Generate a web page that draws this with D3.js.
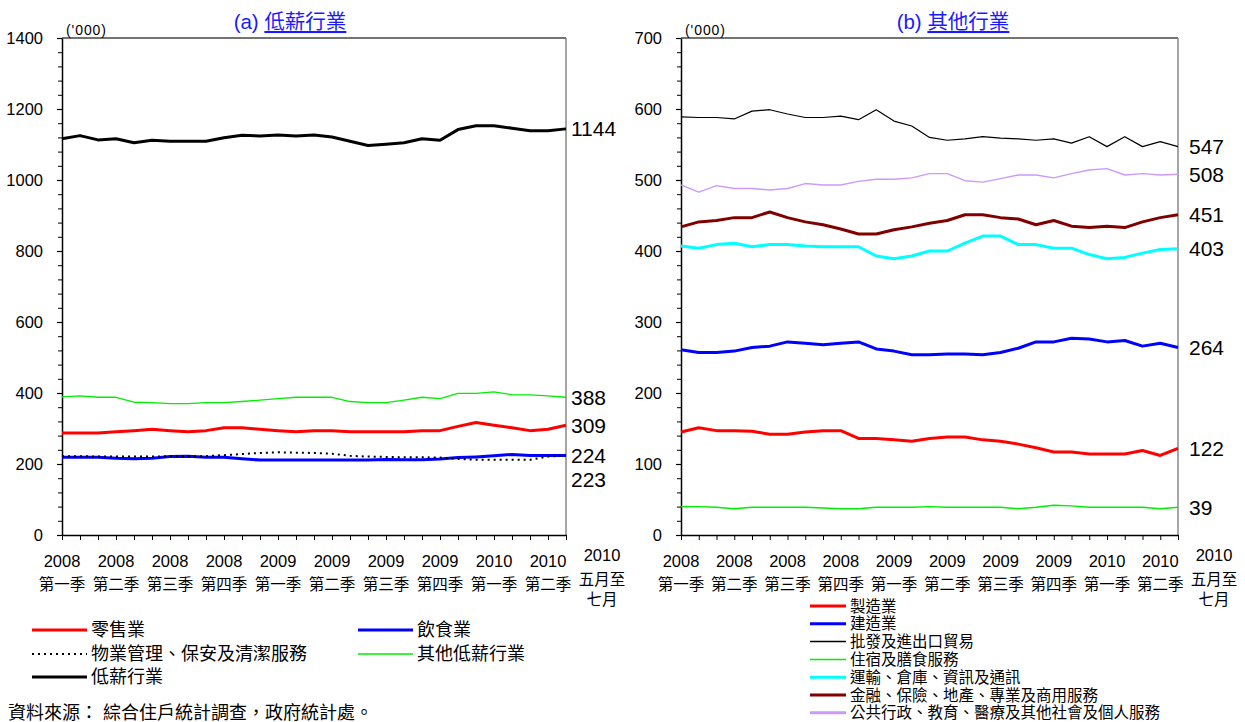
<!DOCTYPE html>
<html><head><meta charset="utf-8">
<script src="https://cdn.jsdelivr.net/npm/d3@7"></script>
<style>
body{margin:0;background:#fff}
text{font-family:"Liberation Sans",Arial,"Noto Sans CJK TC",sans-serif;fill:#000}
</style>
</head><body>
<svg id="c" width="1245" height="722"></svg>
<script>
// ---------- data ----------
const periods = [
 "2008年1-3月","2008年2-4月","2008年3-5月","2008年4-6月","2008年5-7月","2008年6-8月",
 "2008年7-9月","2008年8-10月","2008年9-11月","2008年10-12月","2008年11月-2009年1月","2008年12月-2009年2月",
 "2009年1-3月","2009年2-4月","2009年3-5月","2009年4-6月","2009年5-7月","2009年6-8月",
 "2009年7-9月","2009年8-10月","2009年9-11月","2009年10-12月","2009年11月-2010年1月","2009年12月-2010年2月",
 "2010年1-3月","2010年2-4月","2010年3-5月","2010年4-6月","2010年5-7月"];
const tickYears = ["2008","2008","2008","2008","2009","2009","2009","2009","2010","2010"];
const tickQuarters = ["第一季","第二季","第三季","第四季","第一季","第二季","第三季","第四季","第一季","第二季"];
const lastTickLines = ["2010","五月至","七月"];

// (a) low-paying sectors ('000)
const retail   = [287,287,287,291,294,298,294,291,294,302,302,298,294,291,294,294,291,291,291,291,294,294,306,317,309,302,294,298,309];
const food     = [219,219,219,216,215,216,221,222,219,219,215,211,211,211,211,211,211,211,213,212,212,214,218,220,223,227,224,224,224];
const property = [222,222,221,221,221,221,222,222,222,225,228,231,233,232,231,229,223,221,220,219,219,218,214,212,212,212,212,221,223];
const otherLow = [389,392,388,388,374,373,370,370,373,373,376,380,384,388,388,388,376,373,373,380,388,384,399,399,403,395,395,392,388];
const lowTotal = [1116,1125,1113,1116,1105,1112,1109,1109,1109,1119,1126,1124,1127,1124,1127,1121,1109,1097,1101,1105,1116,1112,1142,1153,1153,1146,1139,1139,1144];
const lowNames = ["零售業","飲食業","物業管理、保安及清潔服務","其他低薪行業","低薪行業"];
const lowEndLabels = ["309","224","223","388","1144"];

// (b) other sectors ('000)
const manuf     = [145,151,147,147,146,142,142,145,147,147,136,136,134,132,136,138,138,134,132,128,123,117,117,114,114,114,119,112,122];
const constr    = [261,257,257,259,264,266,272,270,268,270,272,262,259,254,254,255,255,254,257,263,272,272,277,276,272,274,266,270,264];
const trade     = [589,588,588,586,597,599,593,588,588,590,585,599,583,576,560,556,558,561,559,558,556,558,552,561,547,561,547,554,547];
const accom     = [40,40,39,37,39,39,39,39,38,37,37,39,39,39,40,39,39,39,39,37,39,42,41,39,39,39,39,37,39];
const transport = [407,404,409,411,406,409,409,407,406,406,406,393,389,393,400,400,411,421,421,409,409,404,404,395,389,391,397,402,403];
const finance   = [434,441,443,447,447,455,447,441,437,431,424,424,430,434,439,443,451,451,447,445,437,443,435,433,435,433,441,447,451];
const publicAdm = [493,483,492,488,488,486,488,495,493,493,498,501,501,503,509,509,499,497,502,507,507,503,509,514,516,507,509,507,508];
const otherNames = ["製造業","建造業","批發及進出口貿易","住宿及膳食服務","運輸、倉庫、資訊及通訊","金融、保險、地產、專業及商用服務","公共行政、教育、醫療及其他社會及個人服務"];
const otherEndLabels = ["122","264","547","39","403","451","508"];

const titles = [["(a) ","低薪行業"],["(b) ","其他行業"]];
const unitLabel = "('000)";
const sourceText = "資料來源： 綜合住戶統計調查，政府統計處。";

// ---------- drawing ----------
const svg = d3.select("#c");

function panel(cfg){
  const g = svg.append("g");
  const x = d3.scalePoint().domain(periods).range([cfg.x0, cfg.x1]).padding(0);
  const y = d3.scaleLinear().domain([0, cfg.yMax]).range([535, 38]);

  // frame (top and right)
  g.append("line").attr("x1",cfg.x0).attr("x2",cfg.x1).attr("y1",y(cfg.yMax)).attr("y2",y(cfg.yMax))
    .attr("stroke","#444").attr("stroke-width",1.3);
  g.append("line").attr("x1",cfg.x1).attr("x2",cfg.x1).attr("y1",y(cfg.yMax)).attr("y2",y(0))
    .attr("stroke","#888").attr("stroke-width",1.5);

  // minor y ticks
  const minor = d3.range(0, cfg.yMax+0.1, cfg.minorStep);
  g.append("g").attr("transform",`translate(${cfg.x0},0)`)
    .call(d3.axisLeft(y).tickValues(minor).tickSize(4).tickFormat(""))
    .call(a=>a.select(".domain").remove())
    .selectAll("line").attr("stroke","#000");
  // major y axis
  const major = d3.range(0, cfg.yMax+0.1, cfg.majorStep);
  const ya = g.append("g").attr("transform",`translate(${cfg.x0},0)`)
    .call(d3.axisLeft(y).tickValues(major).tickSize(5).tickSizeOuter(0).tickPadding(14).tickFormat(d3.format("d")));
  ya.select(".domain").attr("stroke","#000").attr("stroke-width",1.5);
  ya.selectAll("line").attr("stroke","#000").attr("stroke-width",1.2);
  ya.selectAll("text").attr("font-size",16.5).attr("font-family",null);

  // x axis
  const xa = g.append("g").attr("transform",`translate(0,${y(0)})`)
    .call(d3.axisBottom(x).tickSize(5).tickSizeOuter(0).tickFormat(""));
  xa.select(".domain").attr("stroke","#000").attr("stroke-width",1.5);
  xa.selectAll("line").attr("stroke","#000");

  // x labels
  tickYears.forEach((yr,i)=>{
    const px = x(periods[i*3]);
    g.append("text").attr("x",px).attr("y",567).attr("text-anchor","middle").attr("font-size",16.5).text(yr);
    g.append("text").attr("x",px).attr("y",590).attr("text-anchor","middle").attr("font-size",15.5).attr("fill","#222").text(tickQuarters[i]);
  });
  const lx = x(periods[periods.length-1]) + cfg.lastDx;
  lastTickLines.forEach((t,k)=>{
    g.append("text").attr("x",lx).attr("y",[561,585,605][k]).attr("text-anchor","middle")
      .attr("font-size",k===0?16.5:15.5).text(t);
  });

  // unit
  g.append("text").attr("x",cfg.x0+4).attr("y",35).attr("font-size",14).attr("fill","#333")
    .attr("textLength",40).text(unitLabel);
  // title
  const t = g.append("text").attr("x",cfg.titleX).attr("y",29).attr("text-anchor","middle").attr("font-size",20.5);
  t.append("tspan").attr("fill","#1a1aff").text(cfg.title[0]);
  t.append("tspan").attr("fill","#1a1aff").attr("text-decoration","underline").text(cfg.title[1]);

  // lines
  const line = d3.line().x((d,i)=>x(periods[i])).y(d=>y(d));
  cfg.series.forEach(s=>{
    g.append("path").datum(s.values).attr("d",line).attr("fill","none")
      .attr("stroke",s.color).attr("stroke-width",s.w)
      .attr("stroke-dasharray",s.dash||null).attr("stroke-linejoin","round");
    g.append("text").attr("x",cfg.x1+cfg.labelDx).attr("y",y(s.values[s.values.length-1])+(s.ldy||0))
      .attr("dy","0.35em").attr("font-size",21).text(s.label);
  });

  // legend
  cfg.series.forEach(s=>{
    const L = s.leg;
    g.append("line").attr("x1",L.x).attr("x2",L.x+L.len).attr("y1",L.y).attr("y2",L.y)
      .attr("stroke",s.color).attr("stroke-width",s.legW||s.w).attr("stroke-dasharray",s.dash||null);
    g.append("text").attr("x",L.x+L.len+4).attr("y",L.y).attr("dy","0.36em")
      .attr("font-size",cfg.legFont).attr("fill","#222").text(s.name);
  });
}

const lowColors = ["#ff0000","#0000ff","#000000","#00ee00","#000000"];
panel({
  x0:62, x1:566, yMax:1400, majorStep:200, minorStep:40, lastDx:36, labelDx:5,
  titleX:290, title:titles[0], legFont:18,
  series:[
    {values:retail,  color:lowColors[0], w:3,   name:lowNames[0], label:lowEndLabels[0], leg:{x:32,y:630,len:55}},
    {values:food,    color:lowColors[1], w:3,   name:lowNames[1], label:lowEndLabels[1], leg:{x:358,y:630,len:55}},
    {values:property,color:lowColors[2], w:2,   dash:"2,4", name:lowNames[2], label:lowEndLabels[2], ldy:24, leg:{x:32,y:654,len:55}},
    {values:otherLow,color:lowColors[3], w:1.3, legW:1.5, name:lowNames[3], label:lowEndLabels[3], leg:{x:358,y:654,len:55}},
    {values:lowTotal,color:lowColors[4], w:3,   name:lowNames[4], label:lowEndLabels[4], leg:{x:32,y:677,len:55}}
  ]
});

const otherColors = ["#ff0000","#0000ff","#000000","#00ee00","#00ffff","#800000","#cc99ff"];
const otherVals = [manuf,constr,trade,accom,transport,finance,publicAdm];
const otherW = [3,3,1.2,1.4,3,3,1.4];
const otherLegW = [3,3,1.5,1.5,3,3,3];
panel({
  x0:681, x1:1178, yMax:700, majorStep:100, minorStep:20, lastDx:36, labelDx:11,
  titleX:953, title:titles[1], legFont:15.5,
  series: otherVals.map((v,i)=>({values:v, color:otherColors[i], w:otherW[i], legW:otherLegW[i],
    name:otherNames[i], label:otherEndLabels[i], leg:{x:810,y:606+i*17.8,len:36}}))
});

svg.append("text").attr("x",8).attr("y",713).attr("dy","0.36em").attr("font-size",18).attr("fill","#222").text(sourceText);
</script>
</body></html>
